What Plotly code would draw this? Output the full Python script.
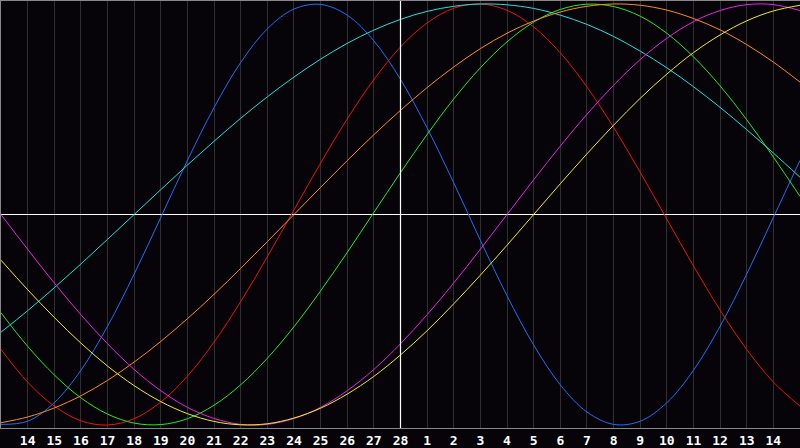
import plotly.graph_objects as go

# Day index (0 = left edge, 30 = right edge), one reading per day
day_index = list(range(31))
tick_positions = list(range(1, 30))
tick_labels = ["14", "15", "16", "17", "18", "19", "20", "21", "22", "23", "24", "25", "26", "27", "28",
               "1", "2", "3", "4", "5", "6", "7", "8", "9", "10", "11", "12", "13", "14"]
today_index = 15

physical = [-0.997, -0.982, -0.894, -0.740, -0.531, -0.283, -0.014, 0.257, 0.508, 0.722, 0.882,
            0.976, 0.998, 0.947, 0.825, 0.642, 0.411, 0.150, -0.123, -0.386, -0.620, -0.809,
            -0.938, -0.997, -0.982, -0.894, -0.740, -0.531, -0.283, -0.014, 0.257]
emotional = [-0.641, -0.796, -0.910, -0.980, -1.000, -0.970, -0.891, -0.768, -0.606, -0.414, -0.201,
             0.022, 0.244, 0.454, 0.641, 0.796, 0.910, 0.980, 1.000, 0.970, 0.891, 0.768,
             0.606, 0.414, 0.201, -0.022, -0.244, -0.454, -0.641, -0.796, -0.910]
intellectual = [-0.467, -0.626, -0.762, -0.871, -0.948, -0.991, -0.998, -0.970, -0.906, -0.809, -0.683,
                -0.533, -0.363, -0.180, 0.010, 0.199, 0.380, 0.549, 0.697, 0.820, 0.914, 0.974,
                0.999, 0.988, 0.942, 0.861, 0.749, 0.611, 0.450, 0.273, 0.086]
spiritual = [-0.559, -0.457, -0.348, -0.235, -0.118, 0.000, 0.118, 0.235, 0.348, 0.457, 0.559,
             0.653, 0.738, 0.813, 0.876, 0.927, 0.965, 0.989, 1.000, 0.996, 0.979, 0.947,
             0.903, 0.846, 0.776, 0.697, 0.607, 0.509, 0.403, 0.292, 0.177]
awareness = [-0.989, -0.962, -0.919, -0.861, -0.788, -0.701, -0.603, -0.495, -0.379, -0.256, -0.129,
             0.000, 0.129, 0.256, 0.379, 0.495, 0.603, 0.701, 0.788, 0.861, 0.919, 0.962,
             0.989, 1.000, 0.994, 0.971, 0.931, 0.877, 0.807, 0.724, 0.629]
intuitive = [0.000, -0.165, -0.325, -0.476, -0.614, -0.736, -0.837, -0.916, -0.969, -0.997, -0.997,
             -0.969, -0.916, -0.837, -0.736, -0.614, -0.476, -0.325, -0.165, 0.000, 0.165, 0.325,
             0.476, 0.614, 0.736, 0.837, 0.916, 0.969, 0.997, 0.997, 0.969]
aesthetic = [-0.217, -0.357, -0.489, -0.611, -0.720, -0.813, -0.889, -0.946, -0.983, -0.999, -0.994,
             -0.967, -0.920, -0.853, -0.769, -0.667, -0.552, -0.424, -0.288, -0.146, 0.000, 0.146,
             0.288, 0.424, 0.552, 0.667, 0.769, 0.853, 0.920, 0.967, 0.994]

series = [
    ("Physical", physical, "#1f6fff"),
    ("Emotional", emotional, "#ee1111"),
    ("Intellectual", intellectual, "#22ee22"),
    ("Spiritual", spiritual, "#22e0e0"),
    ("Awareness", awareness, "#ff8c1a"),
    ("Intuitive", intuitive, "#ee22ee"),
    ("Aesthetic", aesthetic, "#eeee22"),
]

fig = go.Figure()
for name, vals, col in series:
    fig.add_trace(go.Scatter(x=day_index, y=vals, mode="lines", name=name,
                             line=dict(color=col, width=1, shape="spline", smoothing=1.0)))

fig.add_shape(type="line", xref="x", yref="paper", x0=today_index, x1=today_index, y0=0, y1=1,
              line=dict(color="#ffffff", width=1.2), layer="above")

fig.update_layout(
    width=800, height=448,
    margin=dict(l=1, r=0, t=1, b=20),
    paper_bgcolor="#060408", plot_bgcolor="#060408",
    showlegend=False,
    xaxis=dict(range=[0, 30], tickmode="array", tickvals=tick_positions, ticktext=tick_labels,
               showgrid=True, gridcolor="#303030", gridwidth=1, zeroline=False,
               showline=True, mirror=True, linecolor="#888888", linewidth=1,
               ticks="", tickfont=dict(family="DejaVu Sans Mono", size=13, color="#ffffff", weight="bold")),
    yaxis=dict(range=[-1.0142, 1.0142], showgrid=False, showticklabels=False,
               zeroline=True, zerolinecolor="#ffffff", zerolinewidth=1.2,
               showline=True, linecolor="#888888", linewidth=1, ticks=""),
)

fig.write_html(
    "out.html",
    config={"displayModeBar": False},
    post_script="document.body.style.margin='0';document.body.style.overflow='hidden';"
                "document.body.style.background='#060408';",
)
